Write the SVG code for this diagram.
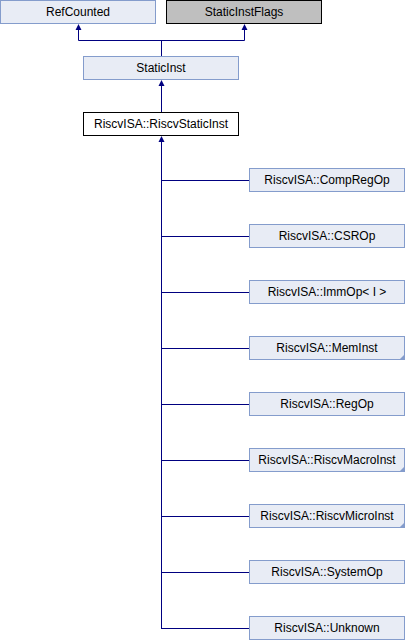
<svg xmlns="http://www.w3.org/2000/svg" width="405" height="640" viewBox="0 0 405 640">
<defs>
<style>
.n{fill:#e8ecf5;stroke:#849ccc;stroke-width:1}
.g{fill:#bfbfbf;stroke:#000;stroke-width:1}
.w{fill:#fff;stroke:#000;stroke-width:1}
.t{font-family:"Liberation Sans",Arial,sans-serif;font-size:12px;fill:#000;text-anchor:middle}
.e{fill:none;stroke:#000080;stroke-width:1}
.a{fill:#000080;stroke:none}
.c{fill:#849ccc;stroke:none}
</style>
</defs>
<rect width="405" height="640" fill="#fff"/>
<g id="connectors">
<path class="e" d="M78.5,26 V40.5 H244.5 V26"/>
<path class="a" d="M78.5,24 L81.5,30 L75.5,30 Z M244.5,24 L247.5,30 L241.5,30 Z"/>
<path class="e" d="M161.5,40.5 V56"/>
<path class="e" d="M161.5,82 V112"/>
<path class="a" d="M161.5,80 L164.5,86 L158.5,86 Z"/>
<path class="e" d="M161.5,138 V628.5"/>
<path class="a" d="M161.5,136 L164.5,142 L158.5,142 Z"/>
<path class="e" d="M161.5,180.5 H249 M161.5,236.5 H249 M161.5,292.5 H249 M161.5,348.5 H249 M161.5,404.5 H249 M161.5,460.5 H249 M161.5,516.5 H249 M161.5,572.5 H249 M161,628.5 H249"/>
</g>
<g id="RefCounted"><rect class="n" x="0.5" y="0.5" width="155" height="23"/><text class="t" x="78" y="16">RefCounted</text></g>
<g id="StaticInstFlags"><rect class="g" x="166.5" y="0.5" width="155" height="23"/><text class="t" x="244" y="16">StaticInstFlags</text></g>
<g id="StaticInst"><rect class="n" x="83.5" y="56.5" width="155" height="23"/><text class="t" x="161" y="72">StaticInst</text></g>
<g id="RiscvStaticInst"><rect class="w" x="83.5" y="112.5" width="155" height="23"/><text class="t" x="161" y="128">RiscvISA::RiscvStaticInst</text></g>
<g id="CompRegOp"><rect class="n" x="249.5" y="168.5" width="155" height="23"/><text class="t" x="327" y="184">RiscvISA::CompRegOp</text></g>
<g id="CSROp"><rect class="n" x="249.5" y="224.5" width="155" height="23"/><text class="t" x="327" y="240">RiscvISA::CSROp</text></g>
<g id="ImmOp"><rect class="n" x="249.5" y="280.5" width="155" height="23"/><text class="t" x="327" y="296">RiscvISA::ImmOp&lt; I &gt;</text></g>
<g id="MemInst"><rect class="n" x="249.5" y="336.5" width="155" height="23"/><path class="c" d="M405,354 V360 H399 Z"/><text class="t" x="327" y="352">RiscvISA::MemInst</text></g>
<g id="RegOp"><rect class="n" x="249.5" y="392.5" width="155" height="23"/><text class="t" x="327" y="408">RiscvISA::RegOp</text></g>
<g id="RiscvMacroInst"><rect class="n" x="249.5" y="448.5" width="155" height="23"/><path class="c" d="M405,466 V472 H399 Z"/><text class="t" x="327" y="464">RiscvISA::RiscvMacroInst</text></g>
<g id="RiscvMicroInst"><rect class="n" x="249.5" y="504.5" width="155" height="23"/><path class="c" d="M405,522 V528 H399 Z"/><text class="t" x="327" y="520">RiscvISA::RiscvMicroInst</text></g>
<g id="SystemOp"><rect class="n" x="249.5" y="560.5" width="155" height="23"/><text class="t" x="327" y="576">RiscvISA::SystemOp</text></g>
<g id="Unknown"><rect class="n" x="249.5" y="616.5" width="155" height="23"/><text class="t" x="327" y="632">RiscvISA::Unknown</text></g>
</svg>
